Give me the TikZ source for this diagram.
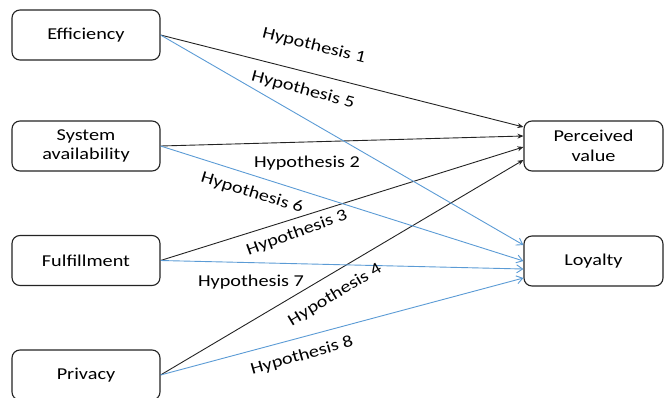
\documentclass[tikz,border=0pt]{standalone}
\usepackage{fontspec}
\setmainfont[FakeStretch=1.22]{Carlito}
\usetikzlibrary{arrows.meta,calc}
\definecolor{hblue}{RGB}{91,155,213}
\definecolor{hdark}{RGB}{35,35,35}
\begin{document}
\begin{tikzpicture}[x=1pt,y=-1pt,
  box/.style={draw=hdark, line width=1.1pt, rounded corners=8pt, minimum height=50pt,
    align=center, font=\fontsize{16.6}{19.5}\selectfont, inner sep=0pt},
  lbox/.style={box, minimum width=148pt},
  rbox/.style={box, minimum width=139pt},
  hb/.style={draw=hdark, line width=0.9pt, -{Stealth[length=6pt,width=5pt]}},
  hl/.style={draw=hblue, line width=0.9pt, -{Straight Barb[length=6pt,width=8pt]}},
  lab/.style={font=\fontsize{16.6}{19}\selectfont, inner sep=0pt}]
\useasboundingbox (0,0) rectangle (665,397);
\node[lbox] (eff) at (86,35) {Efficiency};
\node[lbox] (sys) at (86,146) {System\\availability};
\node[lbox] (ful) at (86,260.5) {Fulfillment};
\node[lbox] (pri) at (86,375) {Privacy};
\node[rbox] (pv) at (593.5,146) {Perceived\\value};
\node[rbox] (loy) at (593.5,261) {Loyalty};
% black arrows to perceived value
\draw[hb] (eff.east) -- ($(pv.west)+(0,-19)$);
\draw[hb] (sys.east) -- ($(pv.west)+(0,-10)$);
\draw[hb] (ful.east) -- ($(pv.west)+(0,1)$);
\draw[hb] (pri.east) -- ($(pv.west)+(0,14)$);
% blue arrows to loyalty
\draw[hl] (eff.east) -- ($(loy.west)+(0,-16)$);
\draw[hl] (sys.east) -- ($(loy.west)+(0,0)$);
\draw[hl] (ful.east) -- ($(loy.west)+(0,8)$);
\draw[hl] (pri.east) -- ($(loy.west)+(0,17)$);
% labels
\node[lab, rotate=-14] (h1) at (314,46) {Hypothesis 1};
\node[lab, rotate=-15] (h5) at (303,90) {Hypothesis 5};
\node[lab] (h2) at (307,163) {Hypothesis 2};
\node[lab, rotate=-17] (h6) at (252,193) {Hypothesis 6};
\node[lab, rotate=20] (h3) at (297,233) {Hypothesis 3};
\node[lab] (h7) at (251,282) {Hypothesis 7};
\node[lab, rotate=31] (h4) at (335,295) {Hypothesis 4};
\node[lab, rotate=16] (h8) at (302,356) {Hypothesis 8};
\end{tikzpicture}
\end{document}
